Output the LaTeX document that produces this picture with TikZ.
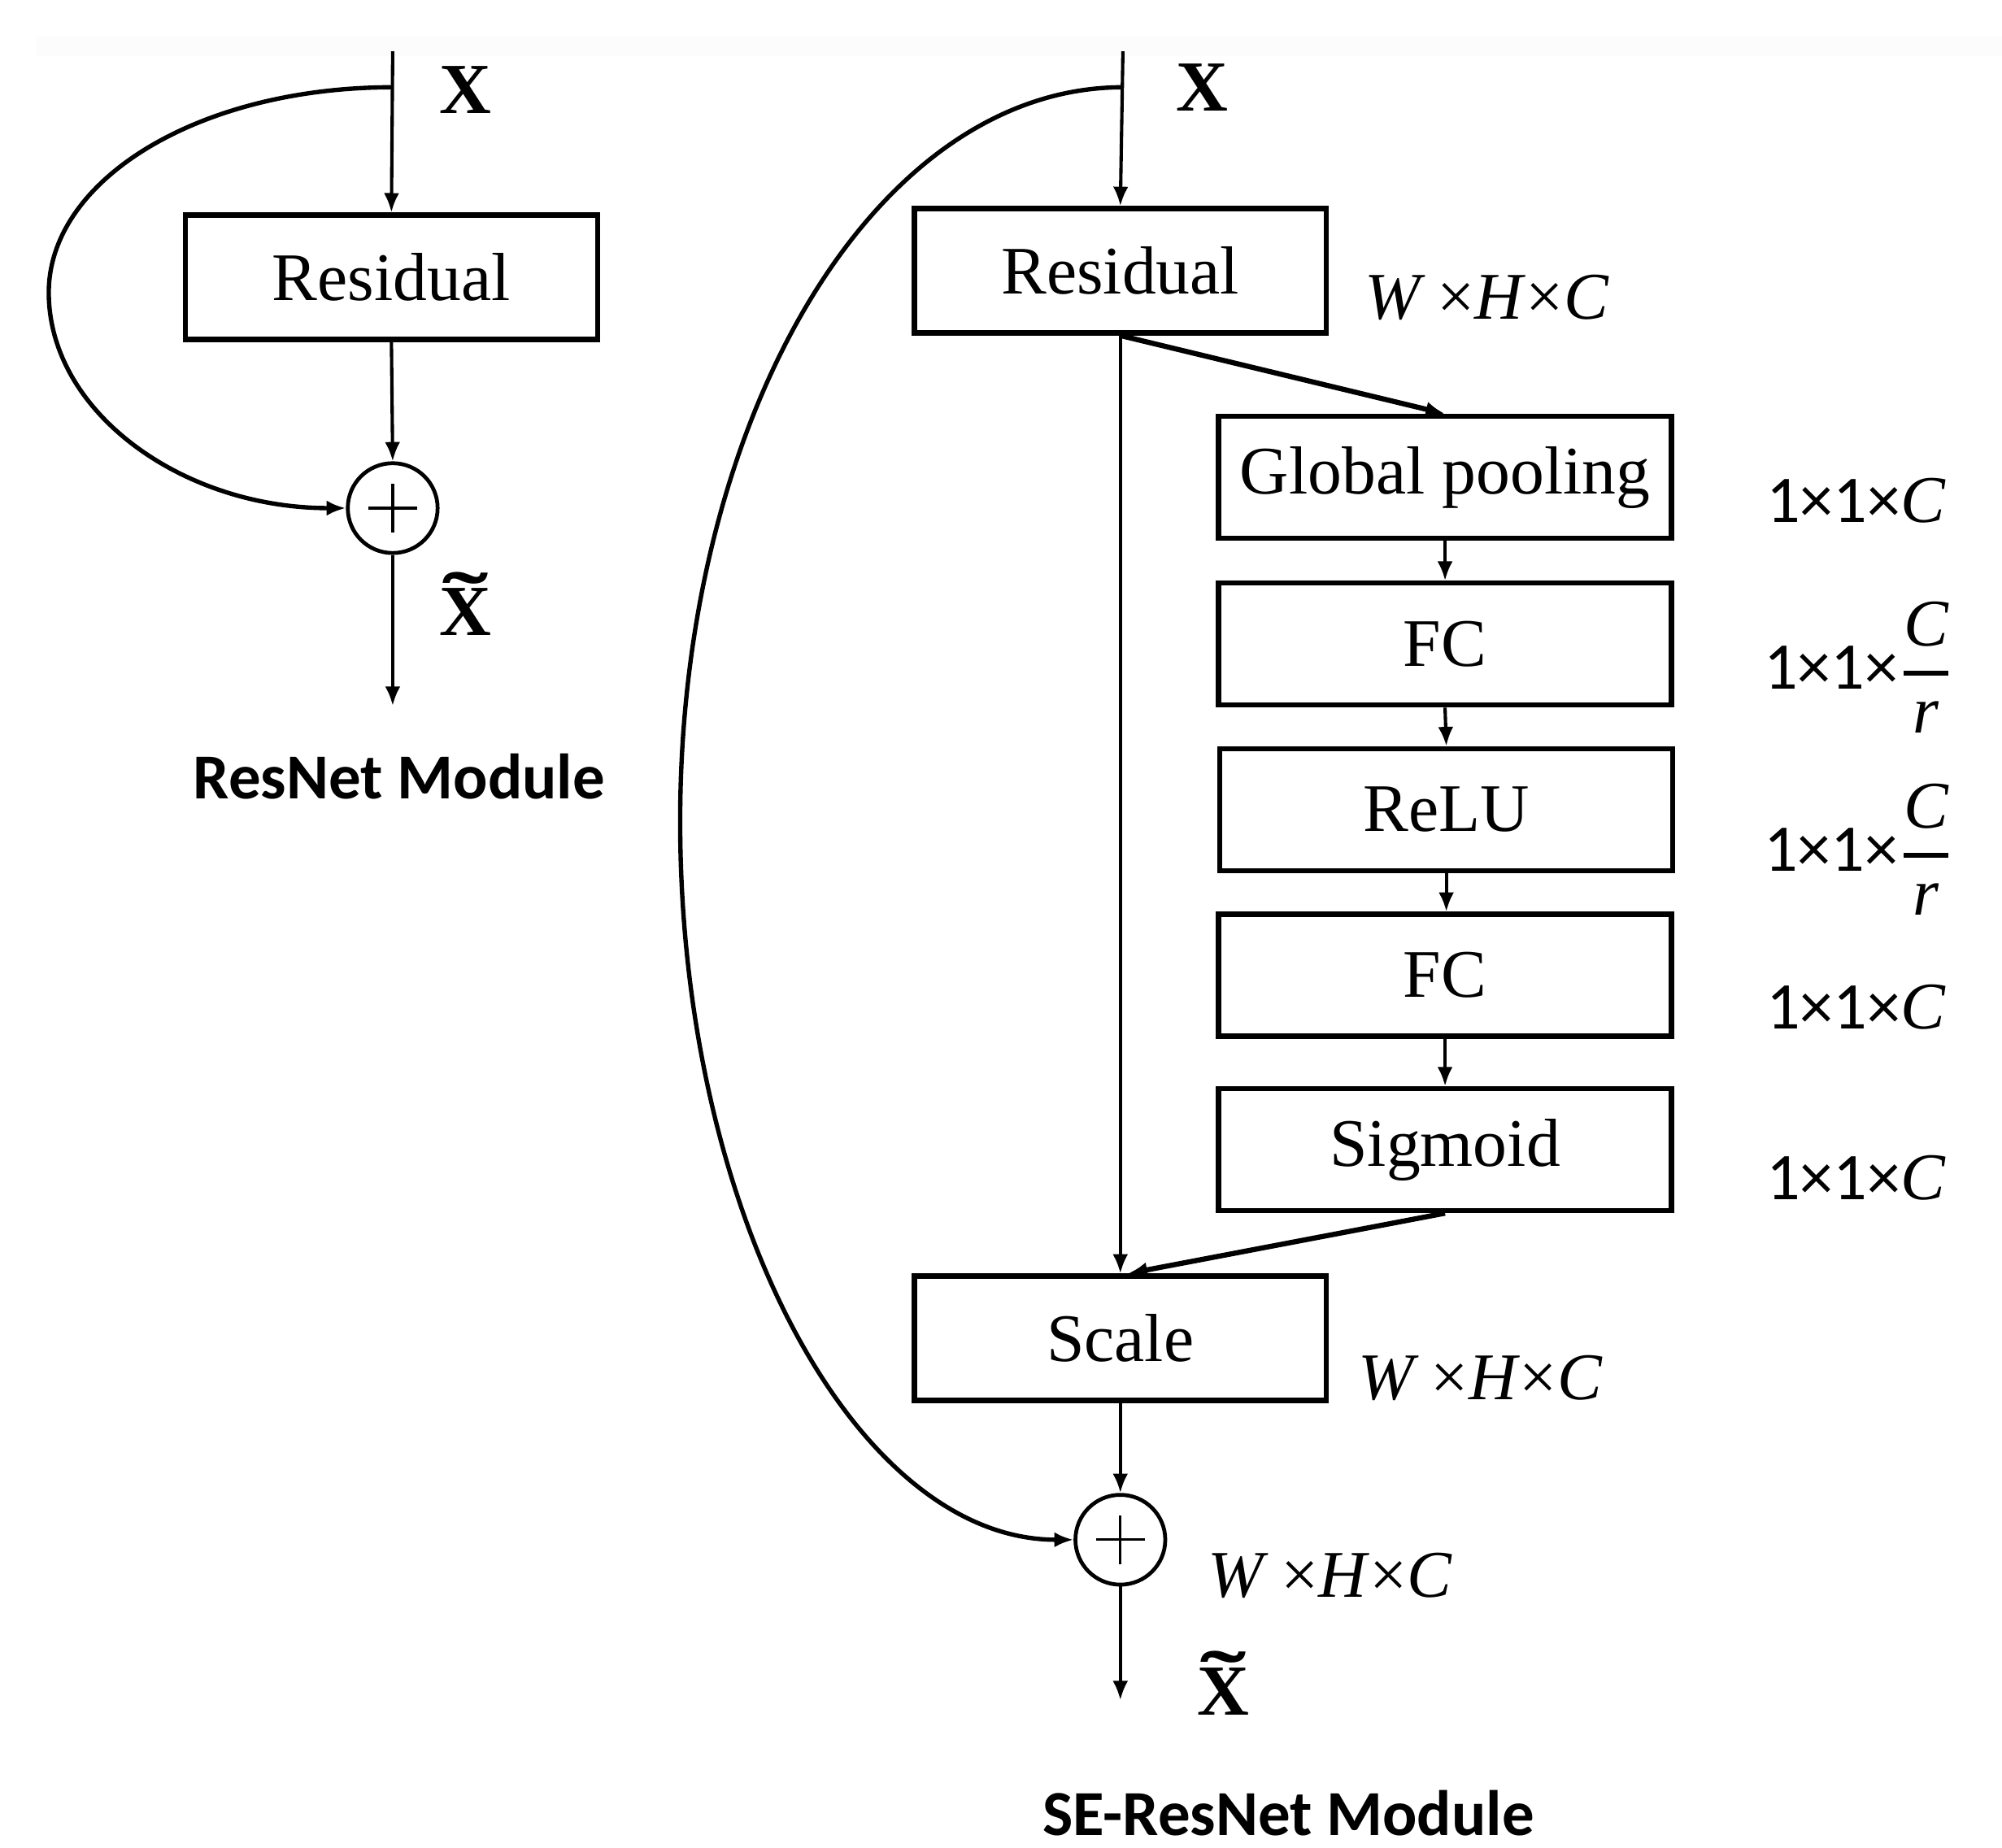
\documentclass[tikz,border=0pt]{standalone}
\usepackage{fontspec}
\usepackage{amsmath}
\usepackage{graphicx}
\setmainfont{Liberation Serif}
\newfontfamily\calfont{Carlito}
\usetikzlibrary{arrows.meta}
\newcommand\dimsWHC{\textit{W}\hspace{0.18em}×\textit{H}×\textit{C}}
\newcommand\dimsOOC{{\calfont 1×1×}\textit{C}}
\newcommand\dimsOOCr{{\calfont 1×1×}\hspace{0.04em}$\genfrac{}{}{2pt}{0}{\text{\itshape C}}{\text{\itshape r}}$}
\newcommand\Xtilde{\ooalign{X\cr\hidewidth\raisebox{0.12em}{\scalebox{1.9}[1.1]{\char"02DC}}\hidewidth\cr}}
\begin{document}
\begin{tikzpicture}[x=0.5pt,y=-0.5pt,
  blk/.style={draw,line width=2pt,inner sep=0pt,font=\fontsize{26.5}{30}\selectfont},
  resbox/.style={blk,minimum width=160.5pt,minimum height=48.5pt},
  sebox/.style={blk,minimum width=176.5pt,minimum height=47.5pt},
  plusnode/.style={draw,circle,line width=1.5pt,minimum size=35pt,inner sep=0pt},
  arr/.style={line width=1.3pt,-{Latex[length=7.5pt,width=6pt]}},
  thickarr/.style={line width=2pt,-{Latex[length=7.5pt,width=6pt]}},
  curvearr/.style={line width=1.7pt,-{Latex[length=7.5pt,width=6pt]}},
  xlab/.style={font=\fontsize{28}{32}\selectfont\bfseries,inner sep=0pt},
  dimlab/.style={font=\fontsize{26}{30}\selectfont,anchor=west,inner sep=0pt},
  caplab/.style={font=\fontsize{25}{30}\selectfont\calfont\bfseries,inner sep=0pt},
  plusbar/.style={line width=1pt}]
\useasboundingbox (0,0) rectangle (1560,1440);
\fill[gray!2] (28,28) rectangle (1560,44);

% ---------------- ResNet module ----------------
\coordinate (ltop) at (306,40);
\coordinate (lsplit) at (306,68);
\node[resbox] (lres) at (305,216) {Residual};
\node[plusnode] (lplus) at (306,396) {};
\draw[plusbar] ([xshift=-9.5pt]lplus.center) -- ([xshift=9.5pt]lplus.center);
\draw[plusbar] ([yshift=-9.5pt]lplus.center) -- ([yshift=9.5pt]lplus.center);
\coordinate (lout) at (306,550);
\node[xlab] (lx) at (363,70) {X};
\node[xlab] (lxt) at (363,477) {\Xtilde};
\node[caplab] (lcap) at (311,605) {ResNet Module};

\draw[arr] (ltop) -- (lres.north);
\draw[arr] (lres.south) -- (lplus.north);
\draw[arr] (lplus.south) -- (lout);
\draw[curvearr] (lsplit) .. controls (155,68) and (38,140) .. (38,228)
  .. controls (38,321) and (142,396) .. (lplus.west);

% ---------------- SE-ResNet module ----------------
\coordinate (rtop) at (875,40);
\coordinate (rsplit) at (875,68);
\node[resbox] (rres) at (873,211) {Residual};
\node[sebox] (gp) at (1126,372) {Global pooling};
\node[sebox] (fc1) at (1126,502) {FC};
\node[sebox] (relu) at (1127,631) {ReLU};
\node[sebox] (fc2) at (1126,760) {FC};
\node[sebox] (sig) at (1126,896) {Sigmoid};
\node[resbox] (scale) at (873,1043) {Scale};
\node[plusnode] (rplus) at (873,1200) {};
\draw[plusbar] ([xshift=-9.5pt]rplus.center) -- ([xshift=9.5pt]rplus.center);
\draw[plusbar] ([yshift=-9.5pt]rplus.center) -- ([yshift=9.5pt]rplus.center);
\coordinate (rout) at (873,1325);
\node[xlab] (rx) at (937,68) {X};
\node[xlab] (rxt) at (953,1318) {\Xtilde};
\node[caplab] (rcap) at (1004,1413) {SE-ResNet Module};

\node[dimlab] (d1) at (1063,232) {\dimsWHC};
\node[dimlab] (d2) at (1376,390) {\dimsOOC};
\node[dimlab] (d3) at (1374,520) {\dimsOOCr};
\node[dimlab] (d4) at (1374,662) {\dimsOOCr};
\node[dimlab] (d5) at (1376,785) {\dimsOOC};
\node[dimlab] (d6) at (1376,918) {\dimsOOC};
\node[dimlab] (d7) at (1058,1074) {\dimsWHC};
\node[dimlab] (d8) at (941,1228) {\dimsWHC};

\draw[arr] (rtop) -- (rres.north);
\draw[arr] (rres.south) -- (scale.north);
\draw[thickarr] (rres.south) -- (gp.north);
\draw[arr] (gp.south) -- (fc1.north);
\draw[arr] (fc1.south) -- (relu.south |- relu.north);
\draw[arr] (relu.south) -- (fc2.north -| relu.south);
\draw[arr] (fc2.south) -- (sig.north);
\draw[thickarr] (sig.south) -- ([xshift=3pt]scale.north);
\draw[arr] (scale.south) -- (rplus.north);
\draw[arr] (rplus.south) -- (rout);
\draw[curvearr] (rsplit) .. controls (682,68) and (530,324) .. (530,640)
  .. controls (530,949) and (668,1200) .. (rplus.west);
\end{tikzpicture}
\end{document}
